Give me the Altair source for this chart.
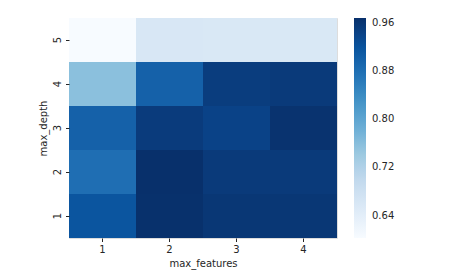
import altair as alt
import pandas as pd

max_features = [1, 2, 3, 4]
max_depth = [1, 2, 3, 4, 5]
# scores[depth index][feature index]
scores = [
    [0.917, 0.967, 0.958, 0.958],  # depth 1
    [0.881, 0.968, 0.954, 0.954],  # depth 2
    [0.899, 0.952, 0.942, 0.964],  # depth 3
    [0.757, 0.899, 0.950, 0.954],  # depth 4
    [0.603, 0.660, 0.658, 0.658],  # depth 5
]
legend_ticks = [0.64, 0.72, 0.80, 0.88, 0.96]

rows = []
for di, d in enumerate(max_depth):
    for fi, f in enumerate(max_features):
        rows.append({"max_features": f, "max_depth": d, "score": scores[di][fi]})
df = pd.DataFrame(rows)

vmin = min(min(r) for r in scores)
vmax = max(max(r) for r in scores)
blues = ["#f7fbff", "#deebf7", "#c6dbef", "#9ecae1", "#6baed6",
         "#4292c6", "#2171b5", "#08519c", "#08306b"]
stops = [vmin + (vmax - vmin) * i / (len(blues) - 1) for i in range(len(blues))]

txt = "#262626"
font = "DejaVu Sans"

axis_common = dict(domain=False, tickSize=3.5, tickColor=txt, labelColor=txt,
                   titleColor=txt, labelFont=font, titleFont=font,
                   labelFontSize=10, titleFontSize=10,
                   titleFontWeight="normal", labelPadding=3, titlePadding=4)

chart = alt.Chart(df).mark_rect(strokeWidth=0).encode(
    x=alt.X("max_features:O", title="max_features",
            scale=alt.Scale(paddingInner=0, paddingOuter=0),
            axis=alt.Axis(labelAngle=0, **axis_common)),
    y=alt.Y("max_depth:O", title="max_depth", sort="descending",
            scale=alt.Scale(paddingInner=0, paddingOuter=0),
            axis=alt.Axis(labelAngle=270, labelAlign="center",
                          labelBaseline="bottom", **axis_common)),
    color=alt.Color("score:Q",
                    scale=alt.Scale(domain=stops, range=blues, clamp=True),
                    legend=alt.Legend(title=None, values=legend_ticks, format=".2f",
                                      gradientLength=220, gradientThickness=12,
                                      gradientStrokeWidth=0,
                                      labelFont=font, labelFontSize=10,
                                      labelColor=txt, offset=17,
                                      labelOverlap=False, labelBaseline="middle",
                                      labelOffset=6,
                                      direction="vertical", orient="right",
                                      padding=0)),
).properties(
    width=268, height=220,
    autosize=alt.AutoSizeParams(type="none"),
    padding={"left": 69, "top": 18, "right": 139, "bottom": 39},
).configure_view(strokeWidth=0).configure(background="white")

chart.save("out.html", embed_options={"renderer": "svg", "actions": False})
